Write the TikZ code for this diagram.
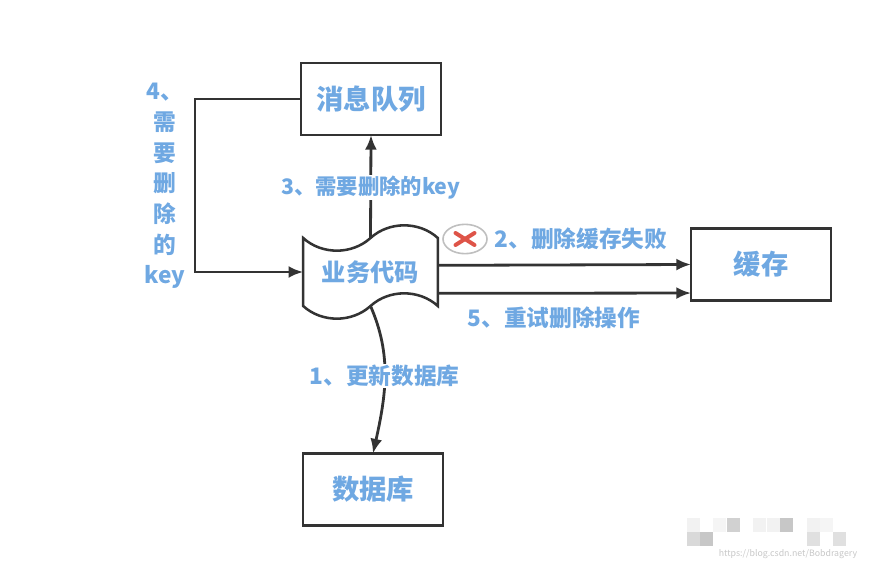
\documentclass[tikz,border=0pt]{standalone}
\usepackage{fontspec}
\setmainfont{Noto Sans CJK SC}
\usepackage{xcolor}
\usepackage{tikz}
\usetikzlibrary{positioning}
\usetikzlibrary{arrows.meta,shapes.symbols,shapes.geometric}
\tikzstyle{line} = [draw, line width=2.1pt, color=black!80, -{Latex[length=11pt,width=9pt]}]
\definecolor{myblue}{RGB}{111,168,226}
\definecolor{myred}{RGB}{222,84,72}

\begin{document}
\begin{tikzpicture}[x=0.75pt,y=-0.75pt,outer sep=0pt,
boxb/.style={
  draw=black!80,
  line width=1.9pt,
  fill=white,
  text=myblue,
  minimum width=105pt,
  minimum height=54pt,
  font={\fontsize{20.5}{21}\selectfont\bfseries}},
waveb/.style={boxb,
  shape=tape,
  tape bend top=in and out,
  tape bend bottom=in and out,
  tape bend height=19pt,
  minimum width=101pt,
  minimum height=70pt,
  inner sep=0pt,
  font={\fontsize{18.2}{19}\selectfont\bfseries}},
lab/.style={
  text=myblue,
  font={\fontsize{17}{18}\selectfont\bfseries},
  align=center},
]
\path[use as bounding box] (0,0) rectangle (871,567);
\node[waveb] (biz) at (370.5,272) {业务代码};
\node[boxb] (msg) at (371,99) {消息队列};
\node[boxb] (cache) at (761,264.5) {缓存};
\node[boxb] (db) at (373,489.5) {数据库};

\path [line] (biz.north) -- node [lab,fill=white,inner sep=1pt,pos=.49,font={\fontsize{16}{18}\selectfont\bfseries}] (l3) {3、需要删除的key} (msg.south);
\path [line] (msg.west) -- ++(-106,0) |- (biz.west);
\path [line] ([yshift=5pt]biz.east) -- (cache.west) ;
\path [line] ([yshift=-16pt]biz.east) -- ([yshift=-21.4pt]cache.west) ;
\path [line] (biz.south) .. controls (392,355) and (386,395) .. node [lab,fill=white,inner sep=1pt,pos=.5] (l1) {1、更新数据库} (db.north);

\node[lab] (l4) at (165,186) {4、\\[5pt]需\\[5pt]要\\[5pt]删\\[5pt]除\\[5pt]的\\[5pt]key};
\node[lab] (l2) at (581,239) {2、删除缓存失败};
\node[lab] (l5) at (554,318) {5、重试删除操作};

\node[ellipse,draw=black!25,line width=1.2pt,minimum width=33pt,minimum height=22pt,inner sep=0pt] (fail) at (465,239) {};
\draw[myred,line width=3pt,line cap=round] ([shift={(-9.5,-6)}]fail.center) -- ([shift={(9.5,6)}]fail.center);
\draw[myred,line width=3pt,line cap=round] ([shift={(-9.5,6)}]fail.center) -- ([shift={(9.5,-6)}]fail.center);

% mosaic
\foreach \xa/\ya/\shade in {687/518/5,713/518/4,727/518/18,753/518/5,767/518/5,780/518/22,807/518/5,820/518/4,687/532/15,700/532/22,807/532/12,833/532/12}
  \fill[black!\shade] (\xa,\ya) rectangle ++(13.3,13.5);
\node[font={\fontsize{6.6}{8}\selectfont},text=black!22] (mark) at (788,554) {https://blog.csdn.net/Bobdragery};
\end{tikzpicture}
\end{document}
